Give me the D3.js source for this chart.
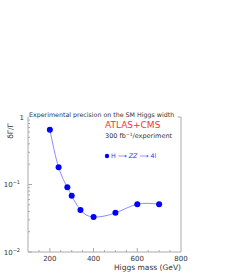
<!DOCTYPE html>
<html>
<head>
<meta charset="utf-8">
<script src="https://cdn.jsdelivr.net/npm/d3@7"></script>
<style>
  body { margin: 0; background: #fff; }
  text { font-family: "DejaVu Sans", sans-serif; }
</style>
</head>
<body>
<svg id="chart" width="245" height="273"></svg>
<script>
let masses = [200, 240, 280, 300, 340, 400, 500, 600, 700];
let precision = [0.65, 0.18, 0.091, 0.068, 0.042, 0.033, 0.038, 0.051, 0.051];
let xTicks = [200, 400, 600, 800];
let yTicks = [1, 0.1, 0.01];
let yTickLabels = ["1", "10", "10"];
let yTickExps = ["", "\u22121", "\u22122"];

let svg = d3.select("#chart");

let x = d3.scaleLinear().domain([100, 800]).range([28, 181]);
let y = d3.scaleLog().domain([0.01, 1]).range([252, 117]);

let axisColor = "#aaa";
let textColor = "#333";

// frame
let frame = svg.append("g").attr("stroke", axisColor).attr("fill", "none");
frame.append("line").attr("x1", x(100)).attr("x2", x(100)).attr("y1", y(0.01)).attr("y2", y(1));
frame.append("line").attr("x1", x(100)).attr("x2", x(800)).attr("y1", y(0.01)).attr("y2", y(0.01));
frame.append("line").attr("x1", x(800)).attr("x2", x(800)).attr("y1", y(0.01)).attr("y2", y(1));
frame.append("line").attr("x1", x(100)).attr("x2", x(800)).attr("y1", y(1)).attr("y2", y(1));

// y minor ticks
let yMinor = [];
[0.01, 0.1].forEach((d) => {
  for (let k = 2; k <= 9; k++) yMinor.push(d * k);
});
svg
  .append("g")
  .selectAll("line")
  .data(yMinor)
  .enter()
  .append("line")
  .attr("x1", x(100))
  .attr("x2", x(100) + 2)
  .attr("y1", (d) => y(d))
  .attr("y2", (d) => y(d))
  .attr("stroke", axisColor);

svg
  .append("g")
  .selectAll("line")
  .data(yTicks)
  .enter()
  .append("line")
  .attr("x1", x(100))
  .attr("x2", x(100) + 4)
  .attr("y1", (d) => y(d))
  .attr("y2", (d) => y(d))
  .attr("stroke", axisColor);

// y labels
let yLab = svg
  .append("g")
  .selectAll("text")
  .data(yTicks)
  .enter()
  .append("text")
  .attr("x", (d, i) => (i == 0 ? x(100) - 4 : x(100) - 8))
  .attr("y", (d) => y(d) + 2.5)
  .attr("text-anchor", "end")
  .attr("font-size", 7)
  .attr("fill", textColor);
yLab.append("tspan").text((d, i) => yTickLabels[i]);
yLab
  .append("tspan")
  .attr("font-size", 5)
  .attr("dy", -3)
  .text((d, i) => yTickExps[i]);

// x ticks
let xMinor = d3.range(150, 800, 50);
svg
  .append("g")
  .selectAll("line")
  .data(xMinor)
  .enter()
  .append("line")
  .attr("x1", (d) => x(d))
  .attr("x2", (d) => x(d))
  .attr("y1", y(0.01))
  .attr("y2", (d) => (d % 200 == 0 ? y(0.01) - 4 : y(0.01) - 2))
  .attr("stroke", axisColor);

svg
  .append("g")
  .selectAll("text")
  .data(xTicks)
  .enter()
  .append("text")
  .text((d) => d)
  .attr("x", (d) => x(d))
  .attr("y", y(0.01) + 9)
  .attr("text-anchor", "middle")
  .attr("font-size", 7)
  .attr("fill", textColor);

// axis titles
svg
  .append("text")
  .text("Higgs mass (GeV)")
  .attr("x", x(800))
  .attr("y", 270)
  .attr("text-anchor", "end")
  .attr("font-size", 7.5)
  .attr("fill", textColor);

svg
  .append("text")
  .text("\u03b4\u0393/\u0393")
  .attr("transform", `translate(13, ${y(0.62)}) rotate(-90)`)
  .attr("text-anchor", "middle")
  .attr("font-size", 7.5)
  .attr("fill", textColor);

// title with white backing over the frame
svg
  .append("rect")
  .attr("x", x(100) + 0.5)
  .attr("y", y(1) - 8)
  .attr("width", 149)
  .attr("height", 9)
  .attr("fill", "#fff");
svg
  .append("text")
  .text("Experimental precision on the SM Higgs width")
  .attr("x", x(100) + 1)
  .attr("y", y(1) - 0.5)
  .attr("font-size", 6.3)
  .attr("fill", textColor);

svg
  .append("text")
  .text("ATLAS+CMS")
  .attr("x", 105)
  .attr("y", 128)
  .attr("font-size", 9)
  .attr("fill", "#ff3030");

let lumi = svg
  .append("text")
  .attr("x", 105)
  .attr("y", 138)
  .attr("font-size", 6.5)
  .attr("fill", textColor);
lumi.append("tspan").text("300 fb");
lumi.append("tspan").attr("font-size", 4.5).attr("dy", -2.5).text("\u22121");
lumi.append("tspan").attr("dy", 2.5).text("/experiment");

// curve and points
let line = d3
  .line()
  .x((d, i) => x(masses[i]))
  .y((d) => y(d))
  .curve(d3.curveNatural);

svg
  .append("path")
  .datum(precision)
  .attr("d", line)
  .attr("fill", "none")
  .attr("stroke", "#8c8cff")
  .attr("stroke-width", 1);

svg
  .append("g")
  .selectAll("circle")
  .data(precision)
  .enter()
  .append("circle")
  .attr("cx", (d, i) => x(masses[i]))
  .attr("cy", (d) => y(d))
  .attr("r", 3)
  .attr("fill", "#0000ff");

// legend
svg.append("circle").attr("cx", 107).attr("cy", 156).attr("r", 2.2).attr("fill", "#0000ff");
let leg = svg
  .append("text")
  .attr("x", 111)
  .attr("y", 158.3)
  .attr("font-size", 6.3)
  .attr("fill", "#3030ff");
leg.append("tspan").text("H \u27f6 ");
leg.append("tspan").attr("font-style", "italic").text("ZZ");
leg.append("tspan").text(" \u27f6 4l");
</script>
</body>
</html>
